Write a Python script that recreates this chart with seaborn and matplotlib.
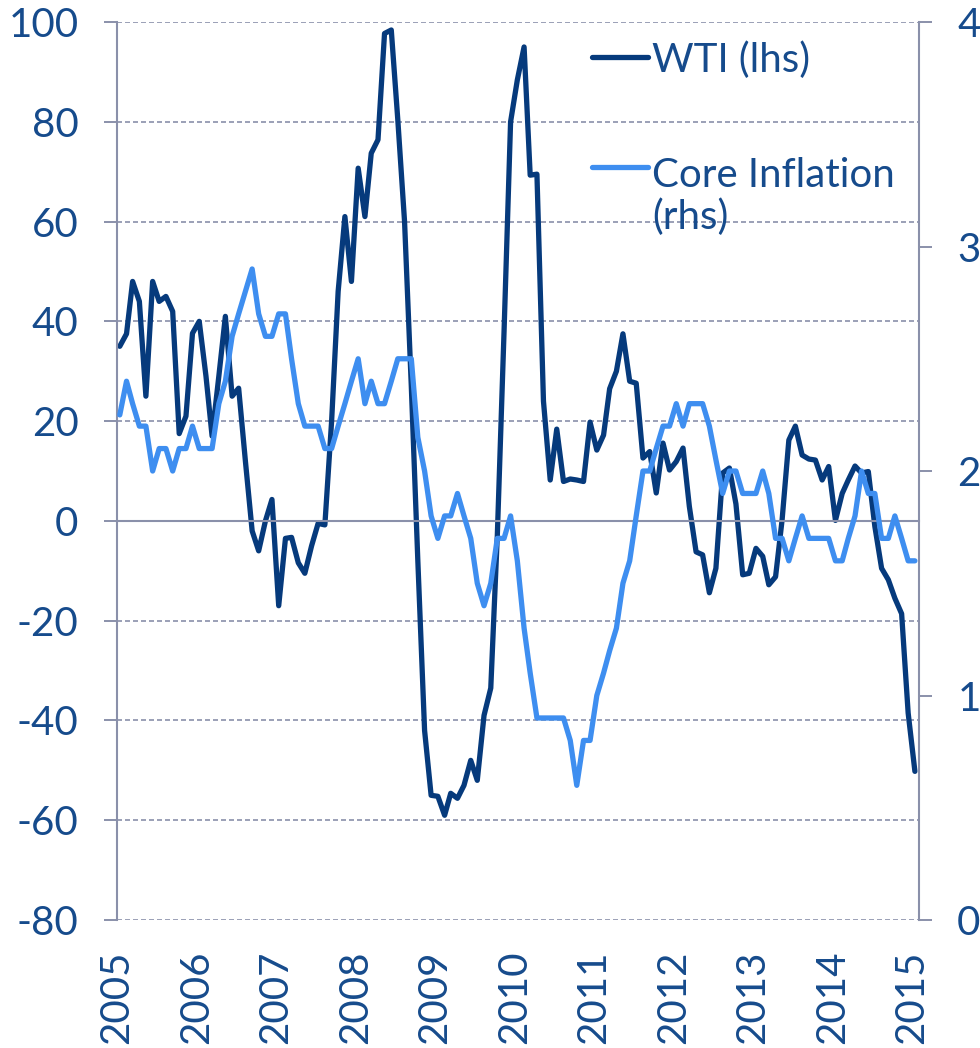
import numpy as np
import pandas as pd
import matplotlib
matplotlib.use("Agg")
import matplotlib.pyplot as plt
import seaborn as sns

# WTI oil price, y/y % change (left axis), monthly Jan 2005 - Jan 2015
wti = [35, 37.5, 48, 44, 25, 48, 44, 45, 42, 17.5, 21, 37.6,
       40, 29, 17, 29, 41, 25, 26.6, 12, -2, -6, 0, 4.3,
       -17, -3.5, -3.3, -8.4, -10.5, -5, -0.5, -0.8, 20, 46, 61, 48,
       70.7, 61, 73.7, 76.4, 97.7, 98.4, 80.4, 60, 27, -8, -42, -55,
       -55.2, -59, -54.6, -55.6, -53, -48, -52, -39, -33.5, -3, 38, 80,
       88.4, 95, 69.3, 69.5, 24, 8.2, 18.4, 7.9, 8.4, 8.2, 7.9, 19.8,
       14.2, 17.2, 26.5, 30, 37.5, 28, 27.6, 12.6, 13.9, 5.6, 15.6, 10.2,
       11.9, 14.6, 2.9, -6.2, -6.8, -14.4, -9.5, 9.6, 10.6, 3.4, -10.8, -10.5,
       -5.5, -7.1, -12.8, -11.2, 0.2, 16.2, 19, 13.2, 12.4, 12.2, 8.2, 10.9,
       0.1, 5.5, 8.2, 11, 9.6, 9.9, -1.1, -9.5, -11.8, -15.5, -18.6, -38.5,
       -50.2]

# core inflation, % (right axis)
core = [2.25, 2.4, 2.3, 2.2, 2.2, 2.0, 2.1, 2.1, 2.0, 2.1, 2.1, 2.2,
        2.1, 2.1, 2.1, 2.3, 2.4, 2.6, 2.7, 2.8, 2.9, 2.7, 2.6, 2.6,
        2.7, 2.7, 2.5, 2.3, 2.2, 2.2, 2.2, 2.1, 2.1, 2.2, 2.3, 2.4,
        2.5, 2.3, 2.4, 2.3, 2.3, 2.4, 2.5, 2.5, 2.5, 2.15, 2.0, 1.8,
        1.7, 1.8, 1.8, 1.9, 1.8, 1.7, 1.5, 1.4, 1.5, 1.7, 1.7, 1.8,
        1.6, 1.3, 1.1, 0.9, 0.9, 0.9, 0.9, 0.9, 0.8, 0.6, 0.8, 0.8,
        1.0, 1.1, 1.2, 1.3, 1.5, 1.6, 1.8, 2.0, 2.0, 2.1, 2.2, 2.2,
        2.3, 2.2, 2.3, 2.3, 2.3, 2.2, 2.05, 1.9, 2.0, 2.0, 1.9, 1.9,
        1.9, 2.0, 1.9, 1.7, 1.7, 1.6, 1.7, 1.8, 1.7, 1.7, 1.7, 1.7,
        1.6, 1.6, 1.7, 1.8, 2.0, 1.9, 1.9, 1.7, 1.7, 1.8, 1.7, 1.6,
        1.6]

years = list(range(2005, 2016))
year_labels = [str(y) for y in years]
left_ticks = list(range(-80, 101, 20))
right_ticks = [0, 1, 2, 3, 4]
labels = ["WTI (lhs)", "Core Inflation\n(rhs)"]

# mid-month dates
dates = pd.date_range("2005-01-01", periods=len(wti), freq="MS") + pd.Timedelta(days=14)
year_dates = pd.to_datetime([f"{y}-01-01" for y in years])

NAVY = "#063a7c"
LIGHT = "#3e8ef0"
TEXT = "#164b8c"
AXIS = "#8a90aa"
FS = 29

sns.set_style("white")
plt.rcParams["font.family"] = ["Lato", "DejaVu Sans"]
plt.rcParams["axes.unicode_minus"] = False

fig = plt.figure(figsize=(9.8, 10.48), dpi=100)
ax = fig.add_axes([0.1191, 0.1221, 0.8187, 0.8569])
ax2 = ax.twinx()

sns.lineplot(x=dates, y=wti, ax=ax, color=NAVY, lw=3.8)
sns.lineplot(x=dates, y=core, ax=ax2, color=LIGHT, lw=3.8)

ax.set_xlim(pd.Timestamp("2005-01-01"), pd.Timestamp("2015-02-03"))
ax.set_ylim(-80, 100)
ax.set_yticks(left_ticks)
ax2.set_ylim(0, 4)
ax2.set_yticks(right_ticks)
ax.set_xticks(year_dates)
ax.set_xlabel("")
ax.set_ylabel("")
ax2.set_ylabel("")

# category axis sits on the zero line, labels go under the plot
ax.spines["bottom"].set_position(("data", 0))
ax.tick_params(axis="x", labelbottom=False, length=9.5, width=1.4, color=AXIS, direction="out")
ax.tick_params(axis="y", length=9.5, width=1.4, color=AXIS, labelsize=FS, labelcolor=TEXT, pad=18)
ax2.tick_params(axis="y", length=9.5, width=1.4, color=AXIS, labelsize=FS, labelcolor=TEXT, pad=18)

ax.yaxis.grid(True, linestyle=(0, (3, 1.8)), color=AXIS, lw=1.2)
ax.xaxis.grid(False)
ax2.grid(False)

for s in ["top", "right"]:
    ax.spines[s].set_visible(False)
for s in ["top", "bottom", "left"]:
    ax2.spines[s].set_visible(False)
for s in ["left", "bottom"]:
    ax.spines[s].set_color(AXIS)
    ax.spines[s].set_linewidth(1.5)
ax2.spines["right"].set_color(AXIS)
ax2.spines["right"].set_linewidth(1.5)

for d, lab in zip(year_dates, year_labels):
    ax.annotate(lab, xy=(d, 0), xycoords=("data", "axes fraction"), xytext=(0, -22),
                textcoords="offset points", rotation=90, ha="center", va="top",
                fontsize=FS, color=TEXT)

# legend drawn by hand so the handle lines up with the first text line
ax2.plot([0.5924, 0.6622], [0.961, 0.961], transform=ax2.transAxes, color=NAVY, lw=3.8,
         solid_capstyle="round")
ax2.plot([0.5924, 0.6622], [0.8385, 0.8385], transform=ax2.transAxes, color=LIGHT, lw=3.8,
         solid_capstyle="round")
ax2.text(0.6672, 0.9443, labels[0], transform=ax2.transAxes, va="baseline", ha="left",
         fontsize=FS, color=TEXT)
# baseline of a two-line text is the last line
ax2.text(0.6672, 0.7695, labels[1], transform=ax2.transAxes, va="baseline", ha="left",
         fontsize=FS, color=TEXT, linespacing=1.15)

fig.savefig("out.png", dpi=100)
